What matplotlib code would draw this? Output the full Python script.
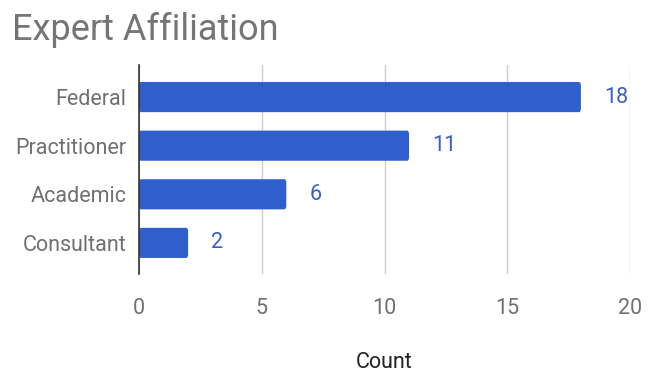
import matplotlib.pyplot as plt
from matplotlib.patches import FancyBboxPatch

plt.rcParams['font.family'] = ['Roboto', 'DejaVu Sans']

categories = ['Federal', 'Practitioner', 'Academic', 'Consultant']
counts = [18, 11, 6, 2]
xticks = [0, 5, 10, 15, 20]

bar_color = '#2f5fcc'
label_blue = '#3a5fbf'
text_gray = '#707070'

fig = plt.figure(figsize=(6.53, 3.72), dpi=100)
ax = fig.add_axes([139 / 653, 1 - 274 / 372, (630 - 139) / 653, (274 - 65) / 372])

ypos = list(range(len(categories)))
h = 0.62
for y, v in zip(ypos, counts):
    ax.add_patch(FancyBboxPatch((0, y - h / 2), v, h,
                                boxstyle='round,pad=0,rounding_size=0.08',
                                facecolor=bar_color, edgecolor='none', zorder=3))
    ax.text(v + 0.95, y, str(v), color=label_blue, fontsize=15.5,
            va='center', ha='left')

ax.set_xlim(0, 20)
ax.set_ylim(3.64, -0.66)
ax.set_yticks(ypos)
ax.set_yticklabels(categories, fontsize=15.5, color=text_gray)
ax.set_xticks(xticks)
ax.set_xticklabels([str(t) for t in xticks], fontsize=15.5, color=text_gray)
ax.tick_params(axis='y', length=0, pad=9)
ax.tick_params(axis='x', length=0, pad=17)

ax.grid(axis='x', color='#cccccc', linewidth=1, zorder=0)
for s in ['top', 'right', 'bottom']:
    ax.spines[s].set_visible(False)
ax.spines['left'].set_color('#333333')
ax.spines['left'].set_linewidth(1.2)
ax.spines['left'].set_zorder(4)

ax.set_xlabel('Count', fontsize=15.5, color='#222222', labelpad=24)
fig.text(12 / 653, 1 - 30 / 372, 'Expert Affiliation', fontsize=26,
         color='#757575', va='center', ha='left')

fig.savefig('out.png', dpi=100, facecolor='white')
